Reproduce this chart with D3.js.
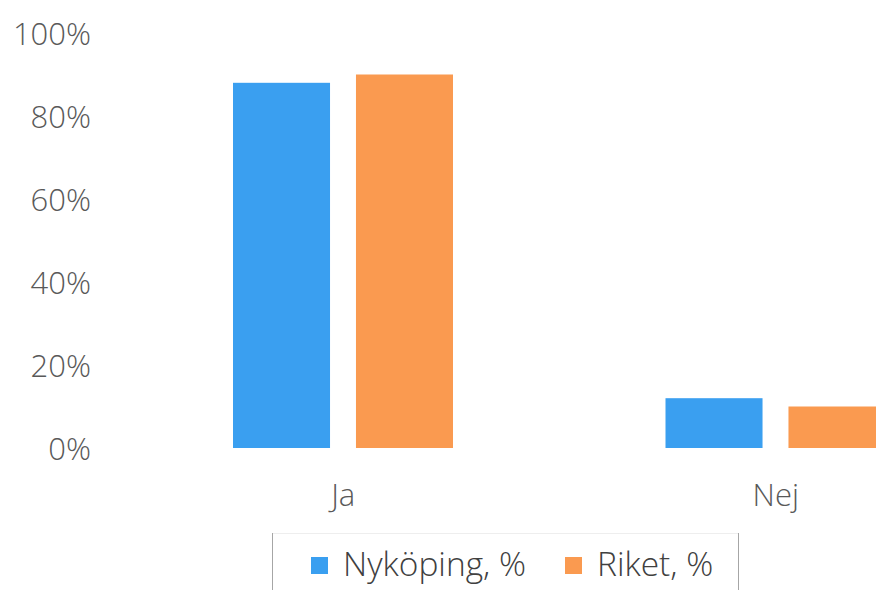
<!DOCTYPE html>
<html lang="sv">
<head>
<meta charset="UTF-8">
<title>Ja / Nej</title>
<script src="https://d3js.org/d3.v7.min.js"></script>
<style>
    body { margin: 0; background: #fff; overflow: hidden; }
    text { font-family: "Open Sans", "Noto Sans", sans-serif; }
</style>
</head>
<body>
<div id="chart"></div>
<script>
    const categories = ["Ja", "Nej"];
    const seriesNames = ["Nyköping, %", "Riket, %"];
    const nykoping = [88, 12];
    const riket = [90, 10];
    const yTicks = [0, 20, 40, 60, 80, 100];

    const colors = ["#3a9ff0", "#fa9a50"];
    const width = 876, height = 590;

    const svg = d3.select("#chart").append("svg")
        .attr("width", width)
        .attr("height", height);

    // plot runs past the right edge, as in the cropped original
    const x = d3.scaleBand().domain(categories).range([127, 992]);
    const inner = d3.scaleBand().domain(seriesNames)
        .range([106, 326])
        .paddingInner(0.211);
    const y = d3.scaleLinear().domain([0, 100]).range([448, 33]);

    // y axis labels
    const yAxis = svg.append("g")
        .attr("transform", "translate(91,0)")
        .call(d3.axisLeft(y).tickValues(yTicks).tickSize(0).tickPadding(0).tickFormat(d => d + "%"));
    yAxis.select(".domain").remove();
    yAxis.selectAll("text")
        .attr("fill", "#595959")
        .style("font-size", "31px")
        .style("font-weight", 300)
        .attr("dy", "0.36em");

    const data = categories.map((c, i) => ({ cat: c, values: [nykoping[i], riket[i]] }));

    const groups = svg.selectAll(".grp").data(data).join("g")
        .attr("transform", d => `translate(${x(d.cat)},0)`);

    groups.selectAll("rect")
        .data(d => d.values.map((v, j) => ({ name: seriesNames[j], v, j })))
        .join("rect")
        .attr("x", d => inner(d.name))
        .attr("width", inner.bandwidth())
        .attr("y", d => y(d.v))
        .attr("height", d => y(0) - y(d.v))
        .attr("fill", d => colors[d.j]);

    // x axis labels
    const xAxis = svg.append("g")
        .attr("transform", "translate(0,506)")
        .call(d3.axisBottom(x).tickSize(0).tickPadding(0));
    xAxis.select(".domain").remove();
    xAxis.selectAll("text")
        .attr("fill", "#595959")
        .style("font-size", "31px")
        .style("font-weight", 300)
        .attr("dy", "0");

    // legend
    const legend = svg.append("g");
    legend.append("line")
        .attr("x1", 272.5).attr("x2", 738.5).attr("y1", 533.5).attr("y2", 533.5)
        .attr("stroke", "#eeeeee");
    [272.5, 738.5].forEach(lx => {
        legend.append("line")
            .attr("x1", lx).attr("x2", lx).attr("y1", 533).attr("y2", 590)
            .attr("stroke", "#a6a6a6");
    });

    const legendX = [311, 565];
    seriesNames.forEach((name, i) => {
        legend.append("rect")
            .attr("x", legendX[i]).attr("y", 557)
            .attr("width", 17).attr("height", 17)
            .attr("fill", colors[i]);
        legend.append("text")
            .attr("x", legendX[i] + 32).attr("y", 576)
            .attr("fill", "#404040")
            .style("font-size", "33.5px")
            .style("font-weight", 300)
            .text(name);
    });
</script>
</body>
</html>
